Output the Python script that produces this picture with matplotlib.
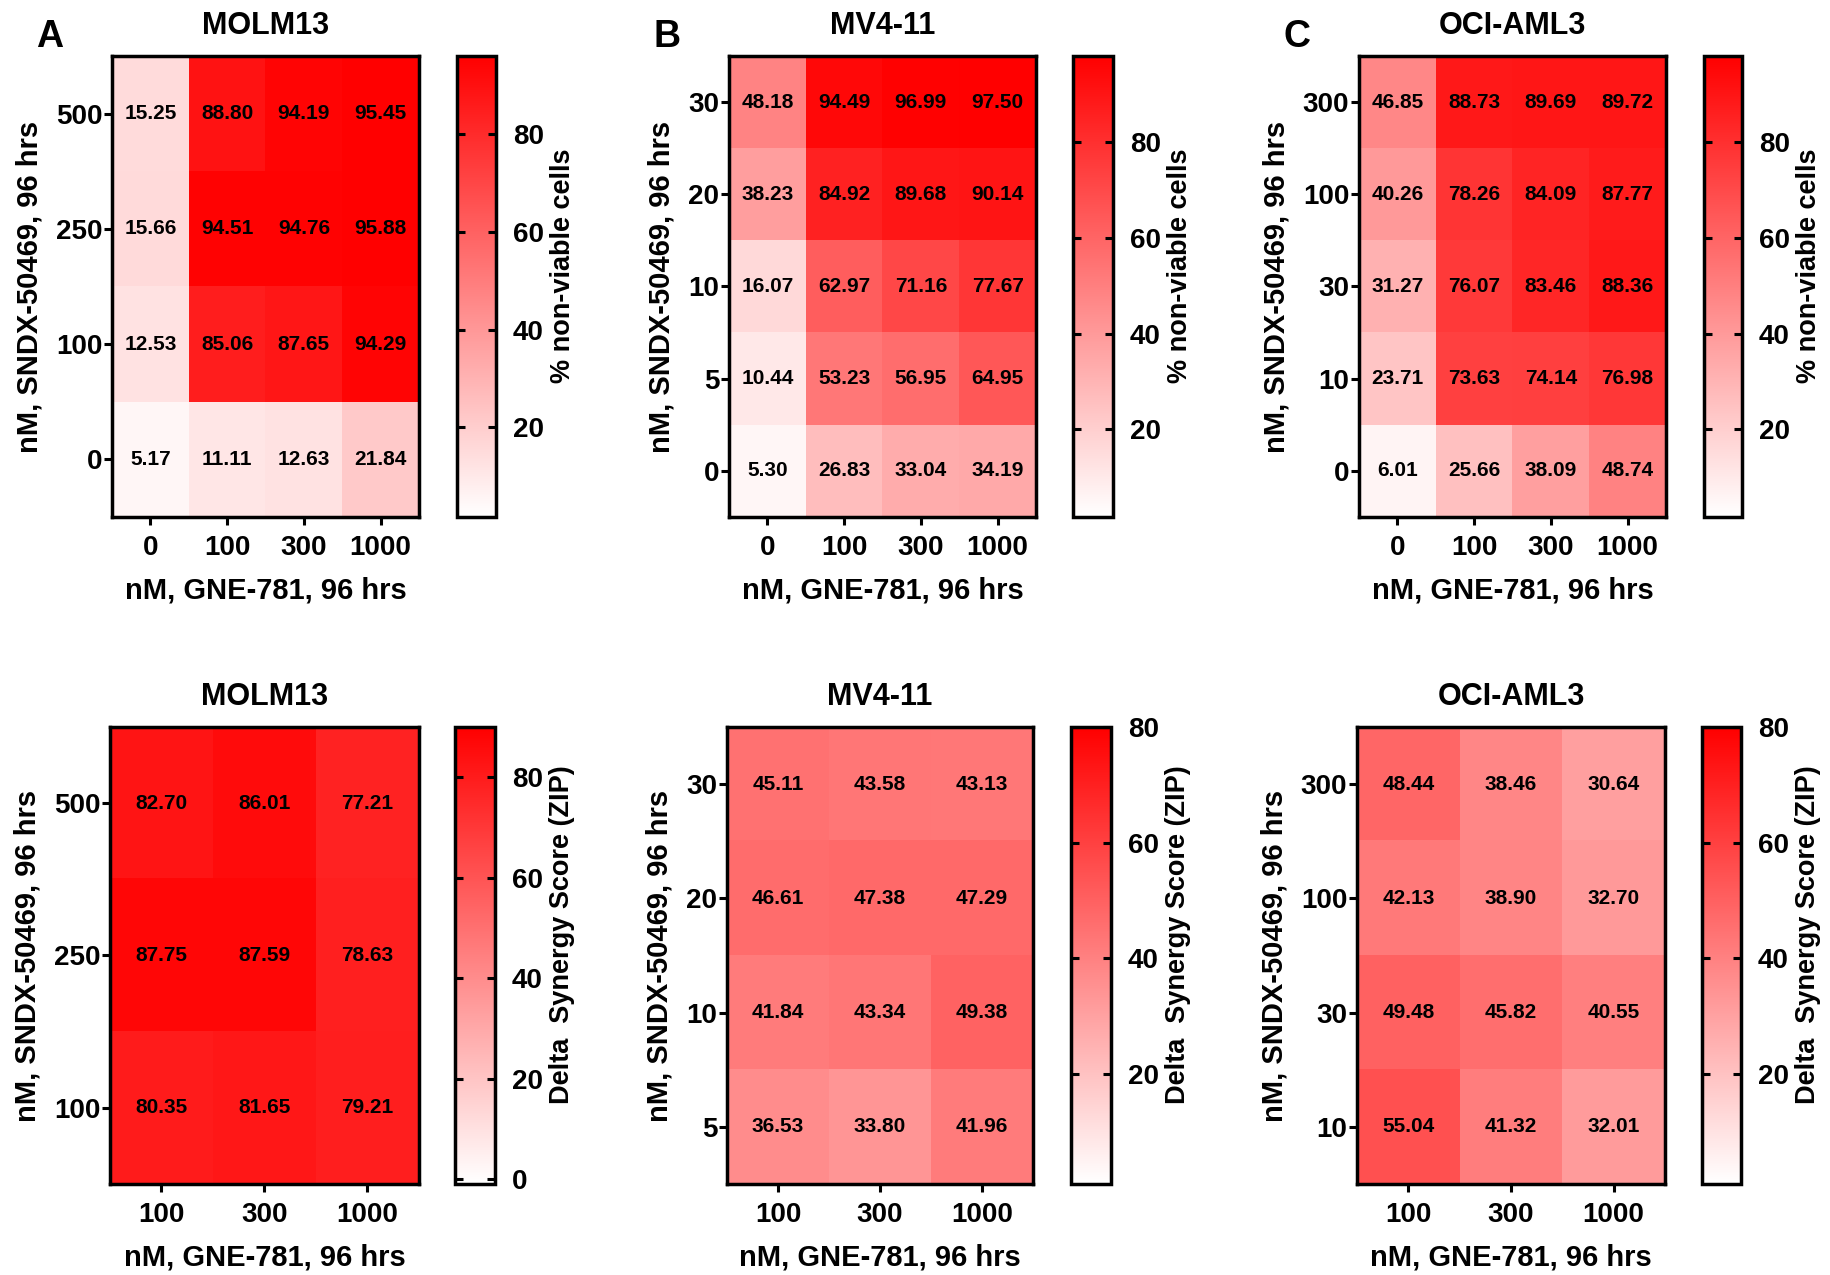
import numpy as np
import matplotlib
matplotlib.use("Agg")
import matplotlib.pyplot as plt
from matplotlib.colors import LinearSegmentedColormap

plt.rcParams['font.family'] = ['Liberation Sans', 'DejaVu Sans']
plt.rcParams['font.weight'] = 'bold'

# ---- data ----
gne_top = ['0', '100', '300', '1000']
gne_zip = ['100', '300', '1000']

molm13_sndx = ['500', '250', '100', '0']
molm13_pct = [[15.25, 88.80, 94.19, 95.45],
              [15.66, 94.51, 94.76, 95.88],
              [12.53, 85.06, 87.65, 94.29],
              [5.17, 11.11, 12.63, 21.84]]

mv411_sndx = ['30', '20', '10', '5', '0']
mv411_pct = [[48.18, 94.49, 96.99, 97.50],
             [38.23, 84.92, 89.68, 90.14],
             [16.07, 62.97, 71.16, 77.67],
             [10.44, 53.23, 56.95, 64.95],
             [5.30, 26.83, 33.04, 34.19]]

oci_sndx = ['300', '100', '30', '10', '0']
oci_pct = [[46.85, 88.73, 89.69, 89.72],
           [40.26, 78.26, 84.09, 87.77],
           [31.27, 76.07, 83.46, 88.36],
           [23.71, 73.63, 74.14, 76.98],
           [6.01, 25.66, 38.09, 48.74]]

molm13_zip_sndx = ['500', '250', '100']
molm13_zip = [[82.70, 86.01, 77.21],
              [87.75, 87.59, 78.63],
              [80.35, 81.65, 79.21]]

mv411_zip_sndx = ['30', '20', '10', '5']
mv411_zip = [[45.11, 43.58, 43.13],
             [46.61, 47.38, 47.29],
             [41.84, 43.34, 49.38],
             [36.53, 33.80, 41.96]]

oci_zip_sndx = ['300', '100', '30', '10']
oci_zip = [[48.44, 38.46, 30.64],
           [42.13, 38.90, 32.70],
           [49.48, 45.82, 40.55],
           [55.04, 41.32, 32.01]]

W, H = 1831, 1275
cmap = LinearSegmentedColormap.from_list('wr', ['#ffffff', '#ff0000'])


def rect(x0, x1, y0, y1):
    return [x0 / W, 1 - y1 / H, (x1 - x0) / W, (y1 - y0) / H]


fig = plt.figure(figsize=(W / 100, H / 100), dpi=100)


def panel(ax_px, cb_px, y_px, data, xlabels, ylabels, title, vmin, vmax,
          cticks, clabel, letter=None):
    ax = fig.add_axes(rect(ax_px[0], ax_px[1], y_px[0], y_px[1]))
    cax = fig.add_axes(rect(cb_px[0], cb_px[1], y_px[0], y_px[1]))
    arr = np.array(data)
    im = ax.imshow(arr, cmap=cmap, vmin=vmin, vmax=vmax, aspect='auto',
                   interpolation='nearest')
    for i in range(arr.shape[0]):
        for j in range(arr.shape[1]):
            ax.text(j, i, '%.2f' % arr[i, j], ha='center', va='center',
                    fontsize=15, fontweight='bold', color='black')
    ax.set_xticks(range(len(xlabels)))
    ax.set_xticklabels(xlabels)
    ax.set_yticks(range(len(ylabels)))
    ax.set_yticklabels(ylabels)
    ax.tick_params(axis='both', labelsize=20, width=2.2, length=6, direction='out')
    ax.tick_params(axis='y', pad=1)
    ax.tick_params(axis='x', pad=7)
    for s in ax.spines.values():
        s.set_linewidth(2.5)
    ax.set_xlabel('nM, GNE-781, 96 hrs', fontsize=21, fontweight='bold', labelpad=11)
    ax.set_ylabel('nM, SNDX-50469, 96 hrs', fontsize=21, fontweight='bold', labelpad=9)
    xc = (ax_px[0] + ax_px[1]) / 2
    fig.text(xc / W, 1 - (y_px[0] - 22) / H, title, ha='center', va='baseline',
             fontsize=22, fontweight='bold')
    if letter:
        fig.text((ax_px[0] - 62) / W, 1 - 47 / H, letter, ha='center',
                 va='baseline', fontsize=27, fontweight='bold')

    cb = fig.colorbar(im, cax=cax, ticks=cticks)
    cb.outline.set_linewidth(2.5)
    cax.tick_params(which='both', direction='in', left=True, right=True,
                    length=6, width=2.2, labelsize=20, pad=12)
    cyc = y_px[0] + (y_px[1] - y_px[0]) * 0.455
    fig.text((cb_px[1] + 67) / W, 1 - cyc / H, clabel, rotation=90,
             ha='center', va='center', fontsize=19.5, fontweight='bold')
    return ax


top = (56, 517)
bot = (727, 1184)
lab_top = '% non-viable cells'
lab_bot = 'Delta  Synergy Score (ZIP)'

panel((112, 419), (457, 496), top, molm13_pct, gne_top, molm13_sndx, 'MOLM13',
      1.7, 95.9, [20, 40, 60, 80], lab_top, 'A')
panel((729, 1036), (1073, 1113), top, mv411_pct, gne_top, mv411_sndx, 'MV4-11',
      1.7, 98.0, [20, 40, 60, 80], lab_top, 'B')
panel((1359, 1666), (1704, 1742), top, oci_pct, gne_top, oci_sndx, 'OCI-AML3',
      1.7, 98.0, [20, 40, 60, 80], lab_top, 'C')

panel((110, 419), (455, 495), bot, molm13_zip, gne_zip, molm13_zip_sndx, 'MOLM13',
      -1.0, 90.0, [0, 20, 40, 60, 80], lab_bot)
panel((727, 1033), (1071, 1111), bot, mv411_zip, gne_zip, mv411_zip_sndx, 'MV4-11',
      1.0, 80.0, [20, 40, 60, 80], lab_bot)
panel((1357, 1665), (1702, 1741), bot, oci_zip, gne_zip, oci_zip_sndx, 'OCI-AML3',
      1.0, 80.0, [20, 40, 60, 80], lab_bot)

fig.savefig('out.png', dpi=100)
